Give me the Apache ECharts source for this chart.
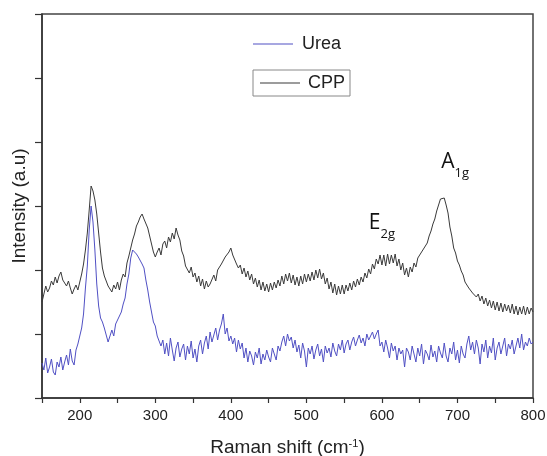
<!DOCTYPE html>
<html>
<head>
<meta charset="utf-8">
<script src="https://cdn.jsdelivr.net/npm/echarts@6/dist/echarts.min.js"></script>
<style>html,body{margin:0;padding:0;background:#fff}#c{width:547px;height:456px}</style>
</head>
<body>
<div id="c"></div>
<script>
const ramanShift = [150,152.5,155,157.5,160,162.5,165,167.5,170,172.5,175,177.5,180,182.5,185,187.5,190,192.5,195,197.5,
200,202.5,205,207.5,210,212.5,215,217.5,220,222.5,225,227.5,230,232.5,235,237.5,240,242.5,245,247.5,
250,252.5,255,257.5,260,262.5,265,267.5,270,272.5,275,277.5,280,282.5,285,287.5,290,292.5,295,297.5,
300,302.5,305,307.5,310,312.5,315,317.5,320,322.5,325,327.5,330,332.5,335,337.5,340,342.5,345,347.5,
350,352.5,355,357.5,360,362.5,365,367.5,370,372.5,375,377.5,380,382.5,385,387.5,390,392.5,395,397.5,
400,402.5,405,407.5,410,412.5,415,417.5,420,422.5,425,427.5,430,432.5,435,437.5,440,442.5,445,447.5,
450,452.5,455,457.5,460,462.5,465,467.5,470,472.5,475,477.5,480,482.5,485,487.5,490,492.5,495,497.5,
500,502.5,505,507.5,510,512.5,515,517.5,520,522.5,525,527.5,530,532.5,535,537.5,540,542.5,545,547.5,
550,552.5,555,557.5,560,562.5,565,567.5,570,572.5,575,577.5,580,582.5,585,587.5,590,592.5,595,597.5,
600,602.5,605,607.5,610,612.5,615,617.5,620,622.5,625,627.5,630,632.5,635,637.5,640,642.5,645,647.5,
650,652.5,655,657.5,660,662.5,665,667.5,670,672.5,675,677.5,680,682.5,685,687.5,690,692.5,695,697.5,
700,702.5,705,707.5,710,712.5,715,717.5,720,722.5,725,727.5,730,732.5,735,737.5,740,742.5,745,747.5,
750,752.5,755,757.5,760,762.5,765,767.5,770,772.5,775,777.5,780,782.5,785,787.5,790,792.5,795,797.5,800];
const cppIntensity = [
96,104,112,106,110,117,113,121,115,122,126,118,120,112,117,110,104,109,113,108,
116,124,134,148,165,188,212,207,198,184,165,146,130,122,117,112,114,106,113,109,
116,108,118,124,121,135,142,150,158,164,172,176,181,184,179,177,170,162,154,146,
141,146,150,143,154,157,150,161,156,165,159,170,163,158,147,142,132,134,125,131,
121,125,116,122,112,119,109,117,111,114,115,123,117,128,126,134,133,141,142,146,
150,143,141,134,130,133,124,130,121,127,118,124,114,120,111,118,108,116,107,114,
106,115,108,116,110,118,112,122,114,124,117,125,115,123,113,121,112,122,114,124,
116,124,117,126,118,128,120,129,119,125,114,120,109,116,105,114,103,112,104,113,
104,113,107,115,108,117,111,119,113,121,116,125,120,129,124,134,129,139,134,143,
133,143,132,144,134,143,135,144,132,139,128,135,123,130,121,131,126,135,131,140,
141,146,148,152,155,162,167,174,179,187,193,199,198,200,193,185,171,162,150,145,
137,133,127,123,116,115,110,109,105,106,101,104,97,102,94,100,92,98,90,97,
88,96,87,95,86,94,87,93,85,94,84,92,83,91,84,92,83,91,84,90,
86];
const ureaIntensity = [
35,28,40,25,31,39,26,23,36,31,41,28,36,43,33,49,37,33,48,54,
62,70,84,110,132,168,192,176,148,114,92,80,76,70,72,56,58,68,62,74,
76,82,86,94,100,114,124,140,148,146,144,141,140,134,130,118,108,96,86,76,
72,62,64,52,58,44,55,42,60,48,37,50,56,41,49,54,38,52,44,57,
40,49,36,52,58,44,55,62,49,66,56,63,70,58,68,74,84,64,70,57,
62,54,60,46,58,49,55,40,50,36,47,42,33,46,40,50,34,44,38,48,
41,36,50,44,38,52,47,56,62,52,64,57,61,50,58,46,53,40,55,47,
31,50,44,52,39,48,54,42,49,36,52,45,50,41,55,47,42,54,48,58,
45,54,58,48,56,61,52,58,63,55,60,52,64,58,62,66,59,64,68,52,
56,46,58,50,40,55,47,52,38,50,44,48,31,50,46,38,52,44,36,50,
42,54,34,48,44,38,53,41,47,36,52,45,40,55,42,36,50,44,56,38,
48,35,52,44,40,54,62,48,56,44,58,50,34,54,46,58,40,52,45,60,
38,50,56,44,52,60,42,54,49,58,44,52,60,50,64,48,56,52,60,54,
56];
const seriesNames = ['Urea', 'CPP'];
const xTickLabels = [200, 300, 400, 500, 600, 700, 800];
const peakLabels = [
  { main: 'E', sub: '2g', shift: 600, level: 171 },
  { main: 'A', sub: '1g', shift: 697, level: 232 }
];

const zip = (xs, ys) => xs.map((x, i) => [x, ys[i]]);
const axisColor = '#333';
const font = '"Liberation Sans", Arial, sans-serif';

const chart = echarts.init(document.getElementById('c'), null, { renderer: 'canvas' });
chart.setOption({
  backgroundColor: '#fff',
  animation: false,
  grid: { left: 42, right: 14, top: 14, bottom: 58, show: true, borderColor: '#444', borderWidth: 1.5, outerBoundsMode: 'none' },
  legend: [
    { data: [seriesNames[0]], left: 253, top: 35, icon: 'rect', itemWidth: 40, itemHeight: 1, itemGap: 0,
      textStyle: { fontFamily: font, fontSize: 18, color: '#222', padding: [0, 0, 0, 4] }, padding: 0 },
    { data: [seriesNames[1]], left: 253, top: 70, icon: 'rect', itemWidth: 40, itemHeight: 1,
      borderColor: '#888', borderWidth: 1, padding: [4, 5, 4, 7],
      textStyle: { fontFamily: font, fontSize: 18, color: '#222', padding: [0, 0, 0, 3] } }
  ],
  xAxis: {
    type: 'value', min: 150, max: 800, interval: 50,
    name: '{a|Raman shift (cm}{s|-1}{a|)}', nameLocation: 'middle', nameGap: 40,
    nameTextStyle: { rich: {
      a: { fontFamily: font, fontSize: 19, color: '#222' },
      s: { fontFamily: font, fontSize: 11, color: '#222', verticalAlign: 'top' }
    } },
    axisLine: { lineStyle: { color: axisColor, width: 1.5 } },
    axisTick: { show: true, inside: false, length: 5, lineStyle: { color: axisColor, width: 1.2 } },
    axisLabel: { fontFamily: font, fontSize: 15, color: '#222', margin: 10,
      formatter: v => (xTickLabels.indexOf(v) >= 0 ? String(v) : ''), showMinLabel: true, showMaxLabel: true },
    splitLine: { show: false }
  },
  yAxis: {
    type: 'value', min: 0, max: 384, interval: 64,
    name: 'Intensity (a.u)', nameLocation: 'middle', nameGap: 13,
    nameTextStyle: { fontFamily: font, fontSize: 19, color: '#222' },
    axisLine: { show: true, lineStyle: { color: axisColor, width: 1.5 } },
    axisTick: { show: true, inside: false, length: 7, lineStyle: { color: axisColor, width: 1.2 } },
    axisLabel: { show: false },
    splitLine: { show: false }
  },
  series: [
    { name: seriesNames[0], type: 'line', data: zip(ramanShift, ureaIntensity), symbol: 'none',
      color: '#5050c4', lineStyle: { width: 1, color: '#5050c4' }, z: 3 },
    { name: seriesNames[1], type: 'line', data: zip(ramanShift, cppIntensity), symbol: 'none',
      color: '#3a3a3a', lineStyle: { width: 1, color: '#3a3a3a' }, z: 2,
      markPoint: {
        symbol: 'circle', symbolSize: 0, silent: true,
        data: peakLabels.map(p => ({
          coord: [p.shift, p.level],
          label: {
            show: true, position: 'inside',
            formatter: '{b|' + p.main + '}{s|' + p.sub + '}',
            lineHeight: 28,
            rich: {
              b: { fontFamily: '"Open Sans", sans-serif', fontSize: 21, color: '#111', verticalAlign: 'top', lineHeight: 28 },
              s: { fontFamily: '"Open Sans", sans-serif', fontSize: 13, color: '#111', verticalAlign: 'bottom', lineHeight: 28 }
            }
          }
        }))
      }
    }
  ]
});
</script>
</body>
</html>
